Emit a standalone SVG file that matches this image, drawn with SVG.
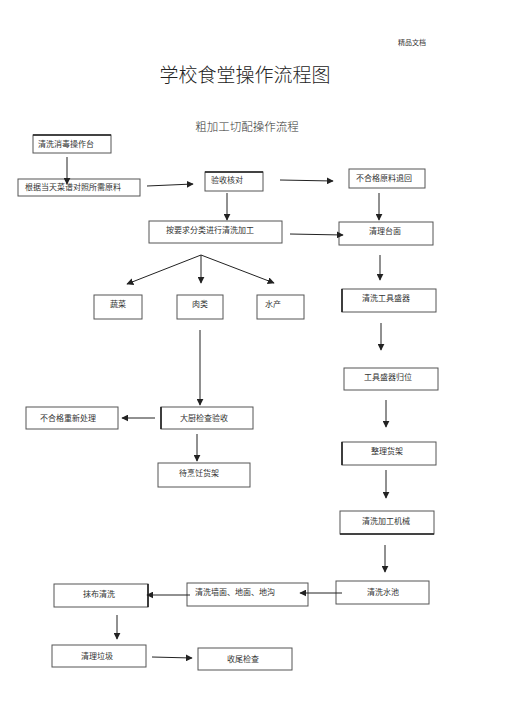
<svg xmlns="http://www.w3.org/2000/svg" width="505" height="714" viewBox="0 0 505 714">
<style>
text{font-family:"Liberation Serif","Noto Sans CJK SC",serif;fill:#333;}
.t{font-size:8px;text-anchor:middle;}
.b{fill:#fff;stroke:#555;stroke-width:1;}
.k{stroke:#222;stroke-width:1.6;}
.c line{stroke:#222;stroke-width:1;fill:none;marker-end:url(#a);}
</style>
<defs>
<marker id="a" viewBox="0 0 10 10" refX="9" refY="5" markerWidth="7" markerHeight="7" markerUnits="userSpaceOnUse" orient="auto">
<path d="M0,0L10,5L0,10z" fill="#222"/>
</marker>
</defs>
<rect width="505" height="714" fill="#fff"/>
<text x="412" y="45" style="font-size:7px;text-anchor:middle">精品文档</text>
<text x="245" y="82" style="font-size:19px;text-anchor:middle;fill:#222;font-weight:300">学校食堂操作流程图</text>
<text x="247" y="131" style="font-size:11.5px;text-anchor:middle;font-weight:300">粗加工切配操作流程</text>

<g id="n1"><rect class="b" x="33" y="135" width="78" height="18"/><line class="k" x1="33" y1="135" x2="111" y2="135"/><text x="66" y="147" class="t">清洗消毒操作台</text></g>
<g id="n2"><rect class="b" x="18" y="179" width="122" height="17"/><text x="73" y="190" class="t">根据当天菜谱对照所需原料</text></g>
<g id="n3"><rect class="b" x="205" y="172" width="58" height="19"/><line class="k" x1="205" y1="172" x2="263" y2="172"/><text x="227" y="183" class="t">验收核对</text></g>
<g id="n4"><rect class="b" x="149" y="221" width="133" height="22"/><text x="210" y="233" class="t">按要求分类进行清洗加工</text></g>
<g id="n5"><rect class="b" x="349" y="169" width="76" height="19"/><text x="384" y="181" class="t">不合格原料退回</text></g>
<g id="n6"><rect class="b" x="339" y="222" width="94" height="23"/><text x="385" y="234" class="t">清理台面</text></g>
<g id="n7"><rect class="b" x="94" y="295" width="48" height="24"/><text x="118" y="307" class="t">蔬菜</text></g>
<g id="n8"><rect class="b" x="177" y="295" width="46" height="24"/><text x="200" y="307" class="t">肉类</text></g>
<g id="n9"><rect class="b" x="257" y="295" width="47" height="24"/><text x="273" y="307" class="t">水产</text></g>
<g id="n10"><rect class="b" x="342" y="289" width="94" height="23"/><line class="k" x1="342" y1="289" x2="342" y2="312"/><text x="386" y="301" class="t">清洗工具盛器</text></g>
<g id="n11"><rect class="b" x="344" y="368" width="94" height="22"/><text x="388" y="380" class="t">工具盛器归位</text></g>
<g id="n12"><rect class="b" x="342" y="442" width="94" height="23"/><line class="k" x1="342" y1="442" x2="342" y2="465"/><text x="387" y="454" class="t">整理货架</text></g>
<g id="n13"><rect class="b" x="340" y="511" width="94" height="23"/><line class="k" x1="340" y1="534" x2="434" y2="534"/><text x="386" y="524" class="t">清洗加工机械</text></g>
<g id="n14"><rect class="b" x="336" y="581" width="93" height="23"/><text x="383" y="595" class="t">清洗水池</text></g>
<g id="n15"><rect class="b" x="161" y="407" width="92" height="22"/><line class="k" x1="161" y1="407" x2="161" y2="429"/><text x="204" y="421" class="t">大厨检查验收</text></g>
<g id="n16"><rect class="b" x="26" y="407" width="92" height="22"/><text x="68" y="421" class="t">不合格重新处理</text></g>
<g id="n17"><rect class="b" x="158" y="463" width="92" height="24"/><text x="199" y="476" class="t">待烹饪货架</text></g>
<g id="n18"><rect class="b" x="187" y="583" width="121" height="23"/><text x="235" y="595" class="t">清洗墙面、地面、地沟</text></g>
<g id="n19"><rect class="b" x="54" y="584" width="94" height="23"/><line class="k" x1="148" y1="584" x2="148" y2="607"/><text x="99" y="597" class="t">抹布清洗</text></g>
<g id="n20"><rect class="b" x="52" y="645" width="94" height="22"/><text x="97" y="659" class="t">清理垃圾</text></g>
<g id="n21"><rect class="b" x="198" y="648" width="94" height="22"/><text x="243" y="662" class="t">收尾检查</text></g>

<g class="c">
<line x1="67" y1="157" x2="67" y2="184"/>
<line x1="147" y1="186" x2="193" y2="184"/>
<line x1="280" y1="180" x2="333" y2="181"/>
<line x1="227" y1="193" x2="227" y2="220"/>
<line x1="379" y1="193" x2="379" y2="220"/>
<line x1="290" y1="234" x2="343" y2="235"/>
<line x1="201" y1="255" x2="127" y2="284"/>
<line x1="201" y1="255" x2="201" y2="283"/>
<line x1="201" y1="255" x2="274" y2="283"/>
<line x1="380" y1="255" x2="380" y2="280"/>
<line x1="381" y1="323" x2="381" y2="350"/>
<line x1="386" y1="400" x2="386" y2="427"/>
<line x1="386" y1="470" x2="386" y2="498"/>
<line x1="385" y1="545" x2="385" y2="572"/>
<line x1="200" y1="330" x2="200" y2="405"/>
<line x1="155" y1="418" x2="122" y2="418"/>
<line x1="197" y1="434" x2="197" y2="461"/>
<line x1="342" y1="593" x2="300" y2="593"/>
<line x1="190" y1="595" x2="147" y2="595"/>
<line x1="117" y1="615" x2="117" y2="639"/>
<line x1="152" y1="657" x2="192" y2="658"/>
</g>
</svg>
